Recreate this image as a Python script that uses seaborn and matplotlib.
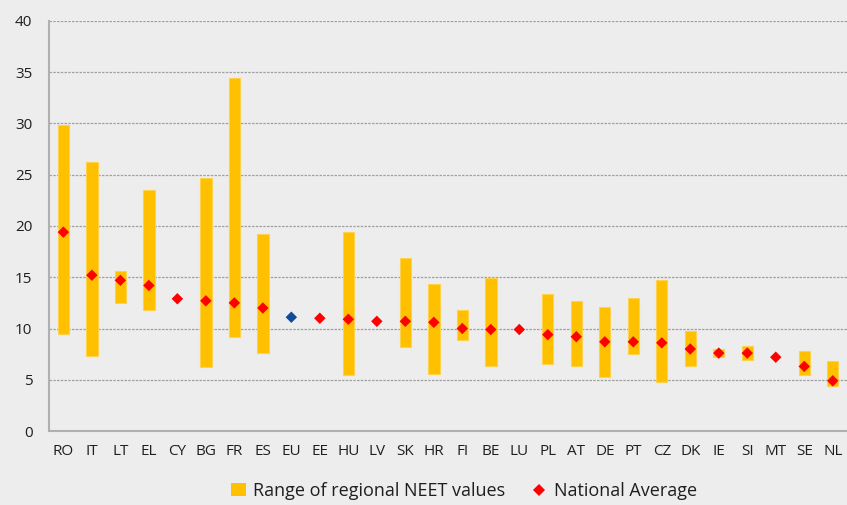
import matplotlib
matplotlib.use('Agg')
import matplotlib.pyplot as plt
import seaborn as sns
import pandas as pd
from matplotlib.patches import Patch
from matplotlib.lines import Line2D

# values
countries = ['RO', 'IT', 'LT', 'EL', 'CY', 'BG', 'FR', 'ES', 'EU', 'EE', 'HU', 'LV', 'SK', 'HR',
             'FI', 'BE', 'LU', 'PL', 'AT', 'DE', 'PT', 'CZ', 'DK', 'IE', 'SI', 'MT', 'SE', 'NL']
national_avg = [19.4, 15.2, 14.7, 14.2, 12.9, 12.7, 12.5, 12.0, 11.1, 11.0, 10.9, 10.7, 10.7, 10.6,
                10.0, 9.9, 9.9, 9.4, 9.2, 8.7, 8.7, 8.6, 8.0, 7.6, 7.6, 7.2, 6.3, 4.9]
# None where there is no regional range (single region countries / EU)
regional_min = [9.5, 7.3, 12.5, 11.8, None, 6.2, 9.2, 7.65, None, None, 5.5, None, 8.2, 5.6,
                8.9, 6.3, None, 6.5, 6.3, 5.3, 7.5, 4.8, 6.3, 7.2, 6.9, None, 5.5, 4.4]
regional_max = [29.85, 26.2, 15.6, 23.5, None, 24.65, 34.4, 19.2, None, None, 19.4, None, 16.85, 14.3,
                11.8, 14.9, None, 13.4, 12.7, 12.1, 13.0, 14.7, 9.8, 8.0, 8.3, None, 7.8, 6.8]

df = pd.DataFrame({
    'Country': countries,
    'Average': national_avg,
    'Low': regional_min,
    'High': regional_max,
})
df['pos'] = range(len(df))
df['group'] = ['EU' if c == 'EU' else 'Country' for c in countries]

bg = '#EDEDED'
sns.set_style('white')
plt.rcParams['font.family'] = ['Open Sans', 'DejaVu Sans']

fig = plt.figure(figsize=(8.47, 5.05), dpi=100, facecolor=bg)
ax = fig.add_axes([0.058, 0.1465, 0.942, 0.812])
ax.set_facecolor(bg)

rng = df.dropna(subset=['Low', 'High'])
ax.bar(rng['pos'], rng['High'] - rng['Low'], bottom=rng['Low'], width=0.4,
       color='#FFC000', edgecolor='#FFD24D', linewidth=0.8, zorder=2)

sns.scatterplot(data=df, x='pos', y='Average', hue='group',
                palette={'Country': '#FF0000', 'EU': '#0F4C9A'},
                marker='D', s=34, linewidth=0, legend=False, zorder=3, ax=ax)

ax.set_xlim(-0.5, len(df) - 0.5)
ax.set_ylim(0, 40)
ax.set_yticks(range(0, 41, 5))
ax.set_xticks(df['pos'])
ax.set_xticklabels(df['Country'])
ax.set_xticks([p + 0.5 for p in df['pos'][:-1]], minor=True)
ax.set_xlabel('')
ax.set_ylabel('')

ax.grid(axis='y', color='#A0A0A0', linestyle=(0, (2, 1)), linewidth=0.9, zorder=0)
ax.set_axisbelow(True)

for s in ['top', 'right']:
    ax.spines[s].set_visible(False)
for s in ['left', 'bottom']:
    ax.spines[s].set_color('#B0B0B0')
    ax.spines[s].set_linewidth(1.5)

ax.tick_params(axis='x', which='major', length=0, pad=9, labelsize=11, labelcolor='#1F1F1F')
ax.tick_params(axis='x', which='minor', length=4, width=1, color='#A0A0A0', direction='out')
ax.tick_params(axis='y', length=4, width=1, color='#A0A0A0', pad=8, labelsize=11, labelcolor='#1F1F1F')

handles = [
    Patch(facecolor='#FFC000', edgecolor='none', label='Range of regional NEET values'),
    Line2D([], [], marker='D', color='none', markerfacecolor='#FF0000', markeredgewidth=0,
           markersize=6, label='National Average'),
]
fig.legend(handles=handles, loc='center', bbox_to_anchor=(0.548, 0.028), ncol=2, frameon=False,
           fontsize=13, handlelength=0.8, handletextpad=0.4, columnspacing=1.5,
           labelcolor='#1F1F1F')

fig.savefig('out.png', dpi=100, facecolor=bg)
plt.close(fig)
